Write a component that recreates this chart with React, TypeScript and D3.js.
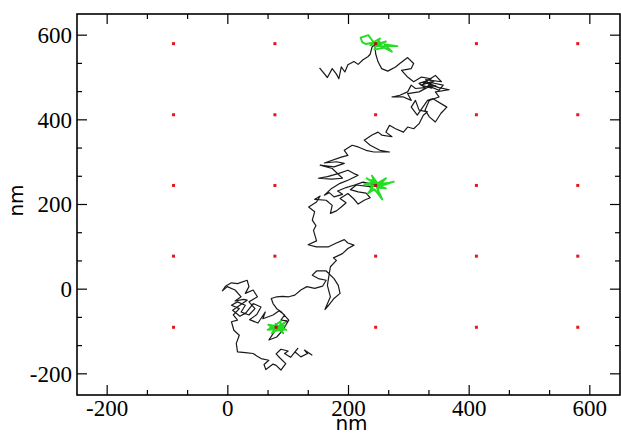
import React, { useEffect, useRef } from 'react';
import * as d3 from 'd3';

// particle track, nm: [x, y] pairs, read in order
const trackLower = [
  [140, -156], [127, -144], [132, -152], [121, -160], [111, -148], [116, -140], [104, -161], [94, -152], [100, -146],
  [88, -142], [80, -153], [86, -162], [96, -176], [88, -191], [80, -180], [75, -177], [63, -190], [60, -178], [68, -168],
  [55, -164], [48, -158], [42, -152], [29, -150], [16, -148], [14, -128], [19, -109], [10, -97], [6, -77], [16, -73],
  [9, -61], [19, -46], [6, -38], [16, -30], [29, -38], [22, -54], [35, -61], [45, -46], [35, -30], [49, -18], [42, -2],
  [29, -10], [35, 6], [32, 21], [16, 13], [6, 15], [-4, 7], [-9, -4], [-1, 6], [12, -2], [22, -18], [12, -28], [26, -24],
  [32, -26], [18, -40], [8, -50], [20, -64], [30, -56], [42, -34], [55, -42], [48, -60], [36, -72], [50, -80], [62, -54],
  [58, -70], [75, -61], [85, -51], [94, -61], [88, -73], [98, -75], [81, -93], [75, -105], [68, -120], [81, -113],
  [91, -97], [101, -73], [89, -54], [81, -46], [75, -34], [72, -22], [81, -18], [91, -17], [101, -18], [111, -14],
  [121, -2], [131, 6], [144, 2], [157, 7], [163, 21], [150, 25], [140, 33], [147, 43], [163, 43], [176, 25], [183, 9],
  [186, -10], [176, -22], [167, -38], [161, -48], [170, -18], [165, 9],
];
const trackMiddle = [
  [170, 53], [180, 68], [175, 74], [190, 84], [199, 96], [209, 104], [199, 109], [193, 117], [180, 109], [167, 100],
  [147, 100], [133, 105], [147, 114], [142, 139], [146, 150], [140, 163], [144, 183], [134, 194], [147, 206], [153, 220],
  [144, 212], [163, 210], [173, 198], [170, 179], [180, 185], [188, 194], [196, 204], [186, 214], [199, 226], [209, 213],
  [216, 201], [226, 210], [236, 216], [229, 227], [216, 230], [203, 235], [213, 246], [236, 242], [244, 247],
];
const trackUpper = [
  [224, 253], [210, 246], [196, 240], [182, 232], [190, 224], [176, 218], [168, 228], [160, 222], [172, 238], [186, 250],
  [200, 258], [216, 269], [209, 273], [199, 281], [183, 273], [165, 266], [150, 262], [172, 260], [190, 262], [173, 285],
  [153, 293], [176, 289], [193, 297], [180, 301], [160, 298], [188, 312], [199, 316], [193, 328], [206, 340], [216, 336],
  [229, 328], [242, 324], [268, 324], [252, 328], [236, 340], [226, 352], [239, 364], [249, 371], [255, 364], [272, 360],
  [262, 371], [268, 387], [278, 379], [291, 371], [298, 383], [308, 379], [317, 391], [324, 411],
];
const trackCluster = [
  [331, 419], [317, 423], [311, 446], [304, 430], [314, 411], [331, 446], [340, 450], [363, 430], [353, 415], [344, 395],
  [334, 407], [327, 423], [334, 446], [350, 454], [344, 466], [367, 471], [350, 476], [337, 482], [325, 490], [345, 480],
  [330, 478], [342, 492], [320, 482], [338, 475], [328, 495], [354, 490], [344, 505], [331, 493], [317, 486], [327, 476],
  [311, 474], [304, 482], [298, 466], [285, 458], [272, 454], [291, 454], [304, 446], [298, 462], [317, 466], [334, 479],
  [350, 470], [357, 482], [340, 487], [324, 487], [337, 497], [321, 501], [308, 490], [298, 501], [288, 517], [304, 521],
  [308, 533], [298, 547], [285, 533], [278, 525], [265, 515], [255, 521], [249, 537], [245, 556], [244, 578],
];
const trackTail = [
  [239, 572], [236, 555], [232, 549], [224, 542], [216, 531], [209, 538], [199, 530], [194, 513], [188, 525], [184, 497],
  [180, 508], [173, 521], [165, 500], [152, 523],
];

// parts of the track spent at a binding site
const bottomSite = [
  [80, -90], [67, -84], [84, -88], [95, -78], [78, -93], [97, -96], [82, -86], [73, -104], [86, -92], [88, -75],
  [76, -88], [66, -96], [83, -94], [92, -104], [79, -82], [84, -91], [70, -90], [82, -98], [94, -86], [78, -88],
];
const middleSite = [
  [245, 247], [239, 268], [248, 250], [262, 262], [250, 245], [275, 254], [252, 243], [262, 238], [247, 240], [256, 212],
  [243, 236], [232, 226], [242, 245], [226, 248], [241, 252], [230, 262], [246, 249], [236, 240], [250, 228], [248, 246],
  [268, 250], [244, 252], [238, 258], [246, 244],
];
const topSite = [
  [244, 580], [239, 588], [233, 600], [220, 594], [223, 583], [229, 579], [240, 582], [252, 592], [246, 578], [262, 585],
  [248, 574], [281, 574], [260, 578], [272, 561], [250, 577], [258, 570], [243, 566], [247, 580], [236, 576], [252, 584],
  [244, 580],
];

// lattice of binding sites, nm
const siteGrid = [-90, 78, 245, 412, 580];

const xTicks = [-200, 0, 200, 400, 600];
const yTicks = [-200, 0, 200, 400, 600];

const App = () => {
  const svgRef = useRef(null);

  useEffect(() => {
    const W = 621, H = 433;
    const left = 77, right = 620, top = 14, bottom = 395;

    const svg = d3.select(svgRef.current);
    svg.selectAll('*').remove();
    svg.attr('width', W).attr('height', H);

    const x = d3.scaleLinear().domain([-250, 650]).range([left, right]);
    const y = d3.scaleLinear().domain([-250, 650]).range([bottom, top]);

    const line = d3.line().x(d => x(d[0])).y(d => y(d[1]));

    // red lattice points
    const sites = [];
    siteGrid.forEach(a => siteGrid.forEach(b => sites.push([a, b])));
    svg.append('g').selectAll('rect')
      .data(sites)
      .enter()
      .append('rect')
      .attr('x', d => x(d[0]) - 1.5)
      .attr('y', d => y(d[1]) - 1.5)
      .attr('width', 3)
      .attr('height', 3)
      .attr('fill', '#e8161b');

    // trajectory
    const track = [].concat(trackLower, trackMiddle, trackUpper, trackCluster, trackTail);
    svg.append('path')
      .attr('d', line(track))
      .attr('fill', 'none')
      .attr('stroke', '#1a1a1a')
      .attr('stroke-width', 1.2)
      .attr('stroke-linejoin', 'round');

    // bound segments in green
    [bottomSite, middleSite, topSite].forEach(seg => {
      svg.append('path')
        .attr('d', line(seg))
        .attr('fill', 'none')
        .attr('stroke', '#22dd22')
        .attr('stroke-width', 1.9)
        .attr('stroke-linejoin', 'round');
    });

    // red dots on top of the green
    svg.append('g').selectAll('rect')
      .data([[80, -90], [245, 245], [245, 580]])
      .enter()
      .append('rect')
      .attr('x', d => x(d[0]) - 1.5)
      .attr('y', d => y(d[1]) - 1.5)
      .attr('width', 3)
      .attr('height', 3)
      .attr('fill', '#b01515');

    // frame
    svg.append('rect')
      .attr('x', left)
      .attr('y', top)
      .attr('width', right - left)
      .attr('height', bottom - top)
      .attr('fill', 'none')
      .attr('stroke', '#000')
      .attr('stroke-width', 1.6);

    // inward ticks on all four sides, two minors between majors
    const allTicks = d3.range(-200, 601, 200 / 3).map(v => Math.round(v * 100) / 100);
    const isMajor = v => Math.abs(v / 200 - Math.round(v / 200)) < 1e-6;
    const tg = svg.append('g').attr('stroke', '#000').attr('stroke-width', 1.2);
    allTicks.forEach(v => {
      const len = isMajor(v) ? 10 : 5;
      tg.append('line').attr('x1', x(v)).attr('x2', x(v)).attr('y1', bottom).attr('y2', bottom - len);
      tg.append('line').attr('x1', x(v)).attr('x2', x(v)).attr('y1', top).attr('y2', top + len);
      tg.append('line').attr('y1', y(v)).attr('y2', y(v)).attr('x1', left).attr('x2', left + len);
      tg.append('line').attr('y1', y(v)).attr('y2', y(v)).attr('x1', right).attr('x2', right - len);
    });

    const serif = '"Liberation Serif", "DejaVu Serif", "Times New Roman", Times, serif';
    svg.append('g').selectAll('text')
      .data(xTicks)
      .enter()
      .append('text')
      .attr('x', d => x(d))
      .attr('y', 416)
      .attr('text-anchor', 'middle')
      .style('font-family', serif)
      .style('font-size', '23px')
      .text(d => d);

    svg.append('g').selectAll('text')
      .data(yTicks)
      .enter()
      .append('text')
      .attr('x', 72)
      .attr('y', d => y(d))
      .attr('dy', '0.34em')
      .attr('text-anchor', 'end')
      .style('font-family', serif)
      .style('font-size', '23px')
      .text(d => d);

    const sans = '"DejaVu Sans", sans-serif';
    svg.append('text')
      .attr('x', (left + right) / 2 + 3)
      .attr('y', 430)
      .attr('text-anchor', 'middle')
      .style('font-family', sans)
      .style('font-size', '20px')
      .text('nm');

    svg.append('text')
      .attr('transform', `translate(23,${(top + bottom) / 2 - 4}) rotate(-90)`)
      .attr('text-anchor', 'middle')
      .style('font-family', sans)
      .style('font-size', '20px')
      .text('nm');
  }, []);

  return <svg ref={svgRef} style={{ position: 'absolute', left: 0, top: 0, background: '#fff' }}></svg>;
};

export default App;
